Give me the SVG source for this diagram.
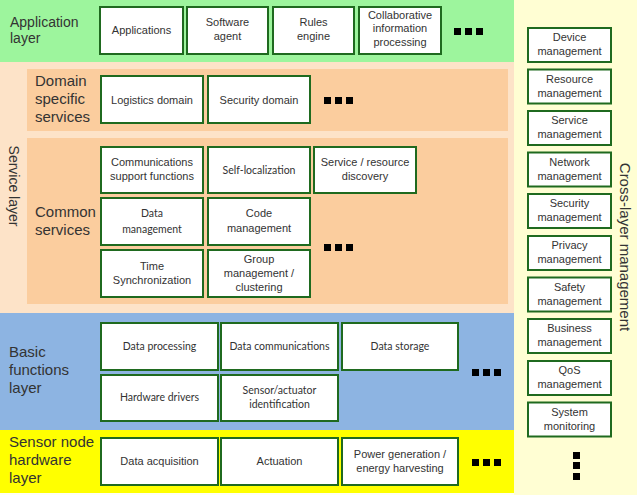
<svg xmlns="http://www.w3.org/2000/svg" width="637" height="495" viewBox="0 0 637 495">
<style>
.box{fill:#ffffff;stroke:#1f6a1f;stroke-width:2}
.t{font-family:"Liberation Sans",Arial,sans-serif;font-size:11px;fill:#333;text-anchor:middle}
.c{font-family:Lato,"Open Sans",sans-serif;font-size:10.5px;fill:#333;text-anchor:middle}
.lbl{font-family:"Liberation Sans",Arial,sans-serif;font-size:15px;fill:#333}
.dot{fill:#000}
</style>
<defs>
<g id="hdots"><rect class="dot" x="0" y="0" width="7" height="7"/><rect class="dot" x="11" y="0" width="7" height="7"/><rect class="dot" x="22" y="0" width="7" height="7"/></g>
</defs>
<!-- backgrounds -->
<rect x="0" y="0" width="637" height="495" fill="#fffff2"/>
<rect x="514" y="0" width="123" height="495" fill="#fffed3"/>
<rect x="0" y="0" width="514" height="62" fill="#9df59d"/>
<rect x="0" y="62" width="514" height="251" fill="#fde3c8"/>
<rect x="27" y="69" width="481" height="62" fill="#fbcd9e"/>
<rect x="27" y="138" width="481" height="166" fill="#fbcd9e"/>
<rect x="0" y="313" width="514" height="117" fill="#8db4e2"/>
<rect x="0" y="430" width="514" height="63" fill="#ffff00"/>

<!-- layer labels -->
<text class="lbl" style="font-size:14px" x="10" y="27">Application</text>
<text class="lbl" style="font-size:14px" x="10" y="43">layer</text>
<text class="lbl" x="35" y="86">Domain</text>
<text class="lbl" x="35" y="104">specific</text>
<text class="lbl" x="35" y="122">services</text>
<text class="lbl" x="35" y="217">Common</text>
<text class="lbl" x="35" y="235">services</text>
<text class="lbl" style="font-size:14px" transform="translate(9,186) rotate(90)" text-anchor="middle">Service layer</text>
<text class="lbl" x="9" y="357">Basic</text>
<text class="lbl" x="9" y="375">functions</text>
<text class="lbl" x="9" y="393">layer</text>
<text class="lbl" x="9" y="447">Sensor node</text>
<text class="lbl" x="9" y="465">hardware</text>
<text class="lbl" x="9" y="483">layer</text>
<text class="lbl" transform="translate(620,247) rotate(90)" text-anchor="middle">Cross-layer management</text>

<!-- application layer -->
<g id="applications"><rect class="box" x="100" y="7" width="83" height="47"/><text class="t" x="141.5" y="34">Applications</text></g>
<g id="software-agent"><rect class="box" x="187" y="7" width="81" height="47"/><text class="t" x="227.5" y="26">Software</text><text class="t" x="227.5" y="40">agent</text></g>
<g id="rules-engine"><rect class="box" x="273" y="7" width="81" height="47"/><text class="t" x="313.5" y="26">Rules</text><text class="t" x="313.5" y="40">engine</text></g>
<g id="collaborative"><rect class="box" x="359" y="7" width="82" height="47"/><text class="t" x="400" y="19">Collaborative</text><text class="t" x="400" y="32">information</text><text class="t" x="400" y="46">processing</text></g>
<use href="#hdots" x="454" y="28"/>

<!-- domain specific -->
<g id="logistics"><rect class="box" x="101" y="76" width="102" height="47"/><text class="t" x="152" y="104">Logistics domain</text></g>
<g id="security-domain"><rect class="box" x="208" y="76" width="102" height="47"/><text class="t" x="259" y="104">Security domain</text></g>
<use href="#hdots" x="324" y="97"/>

<!-- common services -->
<g id="comm-support"><rect class="box" x="101" y="147" width="102" height="46"/><text class="t" x="152" y="166">Communications</text><text class="t" x="152" y="180">support functions</text></g>
<g id="self-loc"><rect class="box" x="208" y="147" width="102" height="46"/><text class="c" x="259" y="174">Self-localization</text></g>
<g id="discovery"><rect class="box" x="314" y="147" width="102" height="46"/><text class="t" x="365" y="166">Service / resource</text><text class="t" x="365" y="180">discovery</text></g>
<g id="data-mgmt"><rect class="box" x="101" y="198" width="102" height="47"/><text class="c" x="152" y="217">Data</text><text class="c" x="152" y="233">management</text></g>
<g id="code-mgmt"><rect class="box" x="208" y="198" width="102" height="47"/><text class="t" x="259" y="217">Code</text><text class="t" x="259" y="232">management</text></g>
<g id="time-sync"><rect class="box" x="101" y="250" width="102" height="47"/><text class="t" x="152" y="270">Time</text><text class="t" x="152" y="284">Synchronization</text></g>
<g id="group-mgmt"><rect class="box" x="208" y="250" width="102" height="47"/><text class="t" x="259" y="263">Group</text><text class="t" x="259" y="277">management /</text><text class="t" x="259" y="291">clustering</text></g>
<use href="#hdots" x="324" y="244"/>

<!-- basic functions -->
<g id="data-processing"><rect class="box" x="101" y="323" width="117" height="47"/><text class="c" x="159.5" y="350">Data processing</text></g>
<g id="data-comm"><rect class="box" x="221" y="323" width="117" height="47"/><text class="c" x="279.5" y="350">Data communications</text></g>
<g id="data-storage"><rect class="box" x="342" y="323" width="116" height="47"/><text class="c" x="400" y="350">Data storage</text></g>
<g id="hw-drivers"><rect class="box" x="101" y="375" width="117" height="46"/><text class="c" x="159.5" y="401">Hardware drivers</text></g>
<g id="sensor-id"><rect class="box" x="221" y="375" width="117" height="46"/><text class="c" x="279.5" y="394">Sensor/actuator</text><text class="c" x="279.5" y="408">identification</text></g>
<use href="#hdots" x="472" y="369"/>

<!-- sensor node hardware -->
<g id="data-acq"><rect class="box" x="101" y="438" width="117" height="47"/><text class="t" x="159.5" y="465">Data acquisition</text></g>
<g id="actuation"><rect class="box" x="221" y="438" width="117" height="47"/><text class="t" x="279.5" y="465">Actuation</text></g>
<g id="power"><rect class="box" x="342" y="438" width="116" height="47"/><text class="t" x="400" y="458">Power generation /</text><text class="t" x="400" y="472">energy harvesting</text></g>
<use href="#hdots" x="472" y="459"/>

<!-- cross-layer -->
<g id="device-mgmt"><rect class="box" x="528" y="28" width="83" height="34"/><text class="t" x="569.5" y="41">Device</text><text class="t" x="569.5" y="55">management</text></g>
<g id="resource-mgmt"><rect class="box" x="528" y="69.5" width="83" height="34"/><text class="t" x="569.5" y="82.5">Resource</text><text class="t" x="569.5" y="96.5">management</text></g>
<g id="service-mgmt"><rect class="box" x="528" y="111" width="83" height="34"/><text class="t" x="569.5" y="124">Service</text><text class="t" x="569.5" y="138">management</text></g>
<g id="network-mgmt"><rect class="box" x="528" y="152.5" width="83" height="34"/><text class="t" x="569.5" y="165.5">Network</text><text class="t" x="569.5" y="179.5">management</text></g>
<g id="security-mgmt"><rect class="box" x="528" y="194" width="83" height="34"/><text class="t" x="569.5" y="207">Security</text><text class="t" x="569.5" y="221">management</text></g>
<g id="privacy-mgmt"><rect class="box" x="528" y="236" width="83" height="34"/><text class="t" x="569.5" y="249">Privacy</text><text class="t" x="569.5" y="263">management</text></g>
<g id="safety-mgmt"><rect class="box" x="528" y="277.5" width="83" height="34"/><text class="t" x="569.5" y="290.5">Safety</text><text class="t" x="569.5" y="304.5">management</text></g>
<g id="business-mgmt"><rect class="box" x="528" y="319" width="83" height="34"/><text class="t" x="569.5" y="332">Business</text><text class="t" x="569.5" y="346">management</text></g>
<g id="qos-mgmt"><rect class="box" x="528" y="361" width="83" height="34"/><text class="t" x="569.5" y="374">QoS</text><text class="t" x="569.5" y="388">management</text></g>
<g id="system-monitoring"><rect class="box" x="528" y="402.5" width="83" height="34"/><text class="t" x="569.5" y="415.5">System</text><text class="t" x="569.5" y="429.5">monitoring</text></g>
<g id="vdots"><rect class="dot" x="573" y="452" width="7" height="7"/><rect class="dot" x="573" y="462" width="7" height="7"/><rect class="dot" x="573" y="473" width="7" height="7"/></g>
<g id="connectors"></g>
</svg>
